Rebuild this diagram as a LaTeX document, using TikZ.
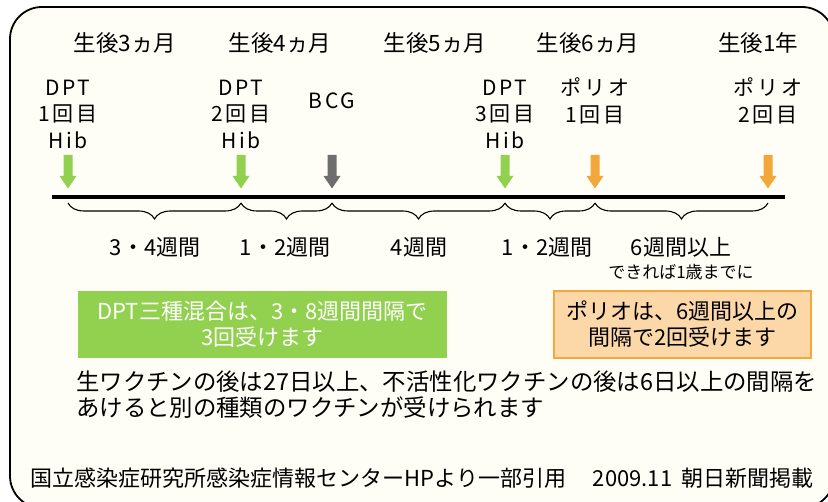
\documentclass[tikz,border=0pt]{standalone}
\usepackage{fontspec}
\setmainfont{Noto Sans CJK JP}
\usetikzlibrary{decorations.pathreplacing}
\definecolor{cream}{HTML}{FFFEF6}
\definecolor{vgreen}{HTML}{92D050}
\definecolor{vorange}{HTML}{F2A73A}
\definecolor{vgray}{HTML}{6E6E6E}
\definecolor{pfill}{HTML}{FCD8A8}
\definecolor{pborder}{HTML}{F2A93B}
\tikzset{
  vacarrow/.pic={\fill[pic actions] (-4.5,-42) -- (4.5,-42) -- (4.5,-21) -- (8.5,-21) -- (0,-8.5) -- (-8.5,-21) -- (-4.5,-21) -- cycle;},
  bracestyle/.style={decorate, decoration={brace, mirror, amplitude=16pt}, line width=1.1pt},
  toplab/.style={font=\fontsize{22.5}{26}\selectfont, inner sep=0pt},
  vlab/.style={font=\fontsize{21}{26.5}\selectfont\addfontfeature{LetterSpace=12}, align=center, inner sep=0pt},
  ivlab/.style={font=\fontsize{22}{26}\selectfont, inner sep=0pt},
  notebox/.style={minimum width=#1, minimum height=67pt, inner sep=0pt, align=center, font=\fontsize{22}{26}\selectfont},
  bodytext/.style={font=\fontsize{23.4}{25.5}\selectfont, align=left, inner sep=0pt, anchor=north west},
}
\begin{document}
\begin{tikzpicture}[x=1pt,y=-1pt]
\useasboundingbox (0,0) rectangle (828,502);
\clip (0,0) rectangle (828,502);
\fill[white] (0,0) rectangle (828,502);
\draw[rounded corners=32pt, line width=1.8pt, fill=cream] (10,7) rectangle (834,508);

% timeline
\coordinate (L0) at (52,197);
\coordinate (L1) at (785,197);
\coordinate (t1) at (68,197);
\coordinate (t2) at (241,197);
\coordinate (t3) at (332,197);
\coordinate (t4) at (505,197);
\coordinate (t5) at (595,197);
\coordinate (t6) at (768,197);
\draw[line width=4.5pt] (L0) -- (L1);

% arrows
\pic[fill=vgreen] at (t1) {vacarrow};
\pic[fill=vgreen] at (t2) {vacarrow};
\pic[fill=vgray] at (t3) {vacarrow};
\pic[fill=vgreen] at (t4) {vacarrow};
\pic[fill=vorange] at (t5) {vacarrow};
\pic[fill=vorange] at (t6) {vacarrow};

% braces
\draw[bracestyle] ([yshift=-6pt]t1) -- ([yshift=-6pt]t2);
\draw[bracestyle] ([yshift=-6pt]t2) -- ([yshift=-6pt]t3);
\draw[bracestyle] ([yshift=-6pt]t3) -- ([yshift=-6pt]t4);
\draw[bracestyle] ([yshift=-6pt]t4) -- ([yshift=-6pt]t5);
\draw[bracestyle] ([yshift=-6pt]t5) -- ([yshift=-6pt]t6);

% top labels
\node[toplab] (m3) at (125,43) {生後3ヵ月};
\node[toplab] (m4) at (280,43) {生後4ヵ月};
\node[toplab] (m5) at (435,43) {生後5ヵ月};
\node[toplab] (m6) at (588,43) {生後6ヵ月};
\node[toplab] (y1) at (758,43) {生後1年};

% vaccine labels
\node[vlab] (v1) at (68,114) {DPT\\1回目\\Hib};
\node[vlab] (v2) at (241,114) {DPT\\2回目\\Hib};
\node[vlab] (v3) at (332,101) {BCG};
\node[vlab] (v4) at (505,114) {DPT\\3回目\\Hib};
\node[vlab] (v5) at (595,101) {ポリオ\\1回目};
\node[vlab] (v6) at (768,101) {ポリオ\\2回目};

% interval labels
\node[ivlab] (i1) at (155,247) {3・4週間};
\node[ivlab] (i2) at (285,247) {1・2週間};
\node[ivlab] (i3) at (419,247) {4週間};
\node[ivlab] (i4) at (547,247) {1・2週間};
\node[ivlab] (i5) at (681,247) {6週間以上};
\node[font=\fontsize{17}{20}\selectfont, inner sep=0pt] (i5b) at (681,272) {できれば1歳までに};

% boxes
\node[notebox=369pt, fill=vgreen, text=white] (gbox) at (262.5,324.5) {DPT三種混合は、3・8週間間隔で\\3回受けます};
\node[notebox=257pt, fill=pfill, draw=pborder, line width=1.2pt] (obox) at (682.5,324.5) {ポリオは、6週間以上の\\間隔で2回受けます};

% body
\node[bodytext] (body) at (76,371) {生ワクチンの後は27日以上、不活性化ワクチンの後は6日以上の間隔を\\あけると別の種類のワクチンが受けられます};

% footer
\node[font=\fontsize{22}{24}\selectfont, inner sep=0pt] (foot) at (422,478) {国立感染症研究所感染症情報センターHPより一部引用\hspace{1.2em}2009.11\hspace{0.4em}朝日新聞掲載};
\end{tikzpicture}
\end{document}
